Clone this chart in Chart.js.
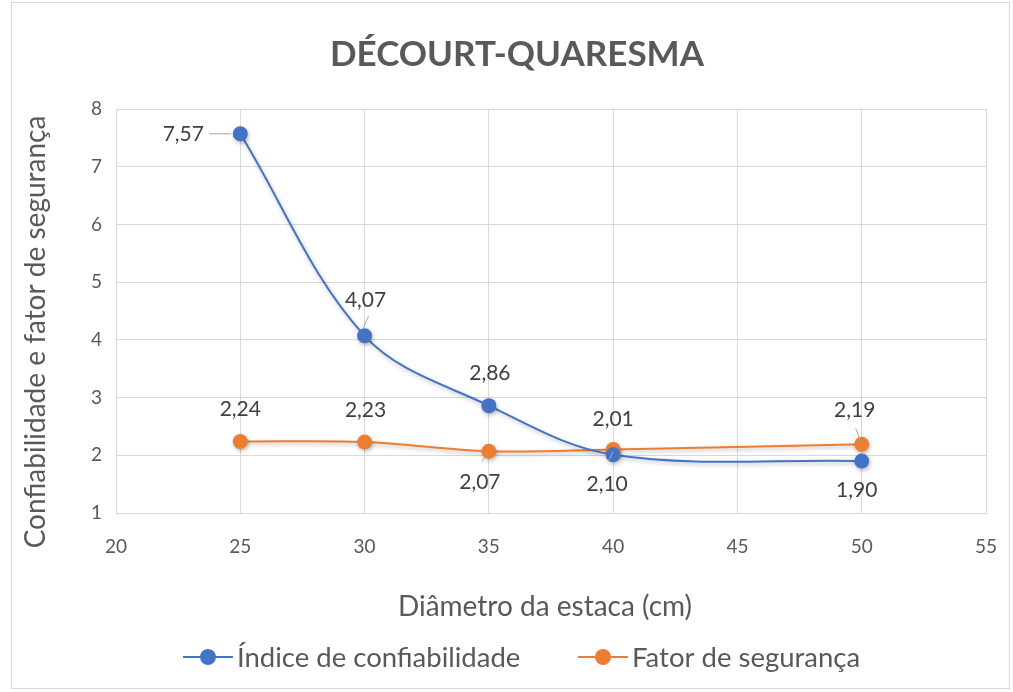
<!DOCTYPE html>
<html>
<head>
<meta charset="utf-8">
<script src="https://cdn.jsdelivr.net/npm/chart.js@4.4.1/dist/chart.umd.min.js"></script>
<style>
html,body{margin:0;padding:0;background:#fff;}
#wrap{width:1013px;height:692px;position:relative;}
</style>
</head>
<body>
<div id="wrap"><canvas id="chart" width="1013" height="692"></canvas></div>
<script>

/* =====================
   Data
===================== */

const diametros=[25,30,35,40,50];

const indiceConfiabilidade=[7.57,4.07,2.86,2.01,1.90];

const fatorSeguranca=[2.24,2.23,2.07,2.10,2.19];

const xMin=20, xMax=55, xStep=5;

const yMin=1, yMax=8, yStep=1;

const titulo="DÉCOURT-QUARESMA";

const tituloX="Diâmetro da estaca (cm)";

const tituloY="Confiabilidade e fator de segurança";

const nomes=["Índice de confiabilidade","Fator de segurança"];

const cores=["#4472C4","#ED7D31"];


// label placement (pixel offsets from point) + optional leader line
const labelPos=[
[
{dx:-57,dy:0,lead:[-31,0,-9,0]},
{dx:1,dy:-36,lead:[4,-20,-1,-8]},
{dx:1,dy:-32},
{dx:0,dy:-35},
{dx:-5,dy:29}
],
[
{dx:0,dy:-32},
{dx:1,dy:-32},
{dx:-9,dy:31,lead:[-1,2,-7,10]},
{dx:-6,dy:35,lead:[0,2,-5,12]},
{dx:-7,dy:-34,lead:[-1,-3,-6,-16]}
]
];

const FONT="Lato, 'Open Sans', sans-serif";

const TXT="#595959";


function toPoints(ys){

return diametros.map((x,i)=>({x:x,y:ys[i]}));

}

function fmt(v){

return v.toFixed(2).replace(".",",");

}


/* =====================
   Text / decoration plugin
===================== */

const decorPlugin={

id:"decor",

beforeDatasetDraw(chart){

const c=chart.ctx;

c.save();

c.shadowColor="rgba(0,0,0,0.28)";

c.shadowBlur=4;

c.shadowOffsetX=1;

c.shadowOffsetY=2;

},

afterDatasetDraw(chart){

chart.ctx.restore();

},

afterDraw(chart){

const c=chart.ctx;

c.save();

// outer frame
c.strokeStyle="#d9d9d9";

c.lineWidth=1;

c.strokeRect(11.5,2.5,998,686);

// title
c.fillStyle=TXT;

c.textAlign="center";

c.textBaseline="middle";

c.font="bold 35px "+FONT;

c.fillText(titulo,517,55);

// x title
c.font="28px "+FONT;

c.fillText(tituloX,545,607);

// y title
c.save();

c.translate(36,332);

c.rotate(-Math.PI/2);

c.fillText(tituloY,0,0);

c.restore();

// legend
const leg=[{x0:183,x1:233,tx:237},{x0:578,x1:628,tx:632}];

leg.forEach((l,i)=>{

c.strokeStyle=cores[i];

c.lineWidth=2;

c.beginPath();

c.moveTo(l.x0,657);

c.lineTo(l.x1,657);

c.stroke();

c.fillStyle=cores[i];

c.beginPath();

c.arc((l.x0+l.x1)/2,657,8,0,Math.PI*2);

c.fill();

c.fillStyle=TXT;

c.textAlign="left";

c.font="27.5px "+FONT;

c.fillText(nomes[i],l.tx,658);

});

// data labels
const xs=chart.scales.x, ys=chart.scales.y;

[indiceConfiabilidade,fatorSeguranca].forEach((serie,s)=>{

serie.forEach((v,i)=>{

const px=xs.getPixelForValue(diametros[i]);

const py=ys.getPixelForValue(v);

const p=labelPos[s][i];

if(p.lead){

c.strokeStyle="#a6a6a6";

c.lineWidth=1;

c.beginPath();

c.moveTo(px+p.lead[2],py+p.lead[3]);

c.lineTo(px+p.lead[0],py+p.lead[1]);

c.stroke();

}

c.fillStyle="#404040";

c.textAlign="center";

c.textBaseline="middle";

c.font="21px "+FONT;

c.fillText(fmt(v),px+p.dx,py+p.dy);

});

});

c.restore();

}

};


/* =====================
   Chart
===================== */

const ctx=document.getElementById("chart").getContext("2d");

const chart=new Chart(ctx,{

type:"scatter",

data:{

datasets:[

{
label:nomes[0],
data:toPoints(indiceConfiabilidade),
showLine:true,
borderColor:cores[0],
backgroundColor:cores[0],
borderWidth:2,
pointRadius:7.5,
pointBorderWidth:0,
tension:0.35
},

{
label:nomes[1],
data:toPoints(fatorSeguranca),
showLine:true,
borderColor:cores[1],
backgroundColor:cores[1],
borderWidth:2,
pointRadius:7.5,
pointBorderWidth:0,
tension:0.35
}

]

},

options:{

responsive:false,

animation:false,

events:[],

layout:{padding:{left:0,right:27,top:109,bottom:139}},

plugins:{
legend:{display:false},
title:{display:false},
tooltip:{enabled:false}
},

scales:{

x:{
type:"linear",
min:xMin,
max:xMax,
ticks:{stepSize:xStep,color:TXT,font:{family:FONT,size:19},padding:22},
grid:{color:"#d9d9d9",drawTicks:false},
border:{color:"#d9d9d9"},
afterFit(a){a.height=40;a.paddingLeft=0;a.paddingRight=0;}
},

y:{
min:yMin,
max:yMax,
ticks:{stepSize:yStep,color:TXT,font:{family:FONT,size:19},padding:14},
grid:{color:"#d9d9d9",drawTicks:false},
border:{color:"#d9d9d9"},
afterFit(a){a.width=116;a.paddingTop=0;a.paddingBottom=0;}
}

}

},

plugins:[decorPlugin]

});

</script>
</body>
</html>
